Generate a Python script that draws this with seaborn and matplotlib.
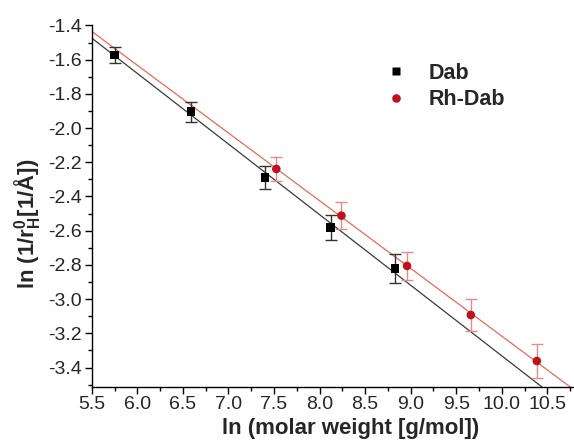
import numpy as np
import pandas as pd
import matplotlib
matplotlib.use('Agg')
import matplotlib.pyplot as plt
from matplotlib.ticker import MultipleLocator, FormatStrFormatter
import seaborn as sns

# Dab (black squares)
dab_x = [5.75, 6.59, 7.40, 8.12, 8.83]
dab_y = [-1.573, -1.904, -2.288, -2.580, -2.820]
dab_err = [0.049, 0.058, 0.068, 0.073, 0.083]

# Rh-Dab (red circles)
rh_x = [7.525, 8.24, 8.96, 9.66, 10.385]
rh_y = [-2.239, -2.512, -2.806, -3.093, -3.362]
rh_err = [0.068, 0.080, 0.083, 0.095, 0.100]

samples = ['Dab', 'Rh-Dab']

def build_df():
    d1 = pd.DataFrame({'x': dab_x, 'y': dab_y, 'err': dab_err, 'sample': 'Dab'})
    d2 = pd.DataFrame({'x': rh_x, 'y': rh_y, 'err': rh_err, 'sample': 'Rh-Dab'})
    return pd.concat([d1, d2], ignore_index=True)

sns.set_style('ticks')
plt.rcParams['font.family'] = ['Liberation Sans', 'DejaVu Sans']
plt.rcParams['mathtext.fontset'] = 'custom'
plt.rcParams['mathtext.rm'] = 'Liberation Sans'
plt.rcParams['mathtext.bf'] = 'Liberation Sans:bold'

df = build_df()
pal = {'Dab': '#000000', 'Rh-Dab': '#c0101e'}
line_col = {'Dab': '#3a3a3a', 'Rh-Dab': '#ea6a55'}
err_col = {'Dab': '#333333', 'Rh-Dab': '#e88a8a'}

fig = plt.figure(figsize=(5.74, 4.47), dpi=100)
ax = fig.add_axes([0.16, 0.135, 0.838, 0.808])
xlim = (5.5, 10.78)
ylim = (-3.512, -1.4)
ax.set_xlim(*xlim)
ax.set_ylim(*ylim)

for s in samples:
    sub = df[df['sample'] == s]
    sns.regplot(x='x', y='y', data=sub, scatter=False, ci=None, truncate=False,
                line_kws={'color': line_col[s], 'lw': 0.9}, ax=ax)
    ax.errorbar(sub['x'], sub['y'], yerr=sub['err'], fmt='none',
                ecolor=err_col[s], elinewidth=1.0, capsize=4, capthick=1.0, zorder=3)

sns.scatterplot(x='x', y='y', hue='sample', style='sample', data=df,
                palette=pal, markers={'Dab': 's', 'Rh-Dab': 'o'},
                s=38, edgecolor='none', zorder=4, ax=ax)

ax.set_xlim(*xlim)
ax.set_ylim(*ylim)
ax.xaxis.set_major_locator(MultipleLocator(0.5))
ax.xaxis.set_minor_locator(MultipleLocator(0.25))
ax.yaxis.set_major_locator(MultipleLocator(0.2))
ax.yaxis.set_minor_locator(MultipleLocator(0.1))
ax.xaxis.set_major_formatter(FormatStrFormatter('%.1f'))
ax.yaxis.set_major_formatter(FormatStrFormatter('%.1f'))
ax.tick_params(which='major', length=5, width=1, labelsize=14, color='black', pad=2)
ax.tick_params(which='minor', length=3, width=1, color='black')
sns.despine(ax=ax)
for sp in ['left', 'bottom']:
    ax.spines[sp].set_linewidth(1.0)
    ax.spines[sp].set_color('black')

ax.set_xlabel('ln (molar weight [g/mol])', fontsize=16, fontweight='bold')
ax.set_ylabel(r'ln (1/r$\mathbf{_H^0}$[1/Å])', fontsize=16, fontweight='bold')
ax.xaxis.set_label_coords(0.537, -0.088)
ax.yaxis.set_label_coords(-0.102, 0.45)

leg = ax.legend(frameon=False, loc='upper left', bbox_to_anchor=(0.565, 0.95),
                prop={'weight': 'bold', 'size': 15.5}, handlelength=1.2,
                handletextpad=0.9, labelspacing=0.25, markerscale=1.0)

fig.savefig('out.png', dpi=100)
